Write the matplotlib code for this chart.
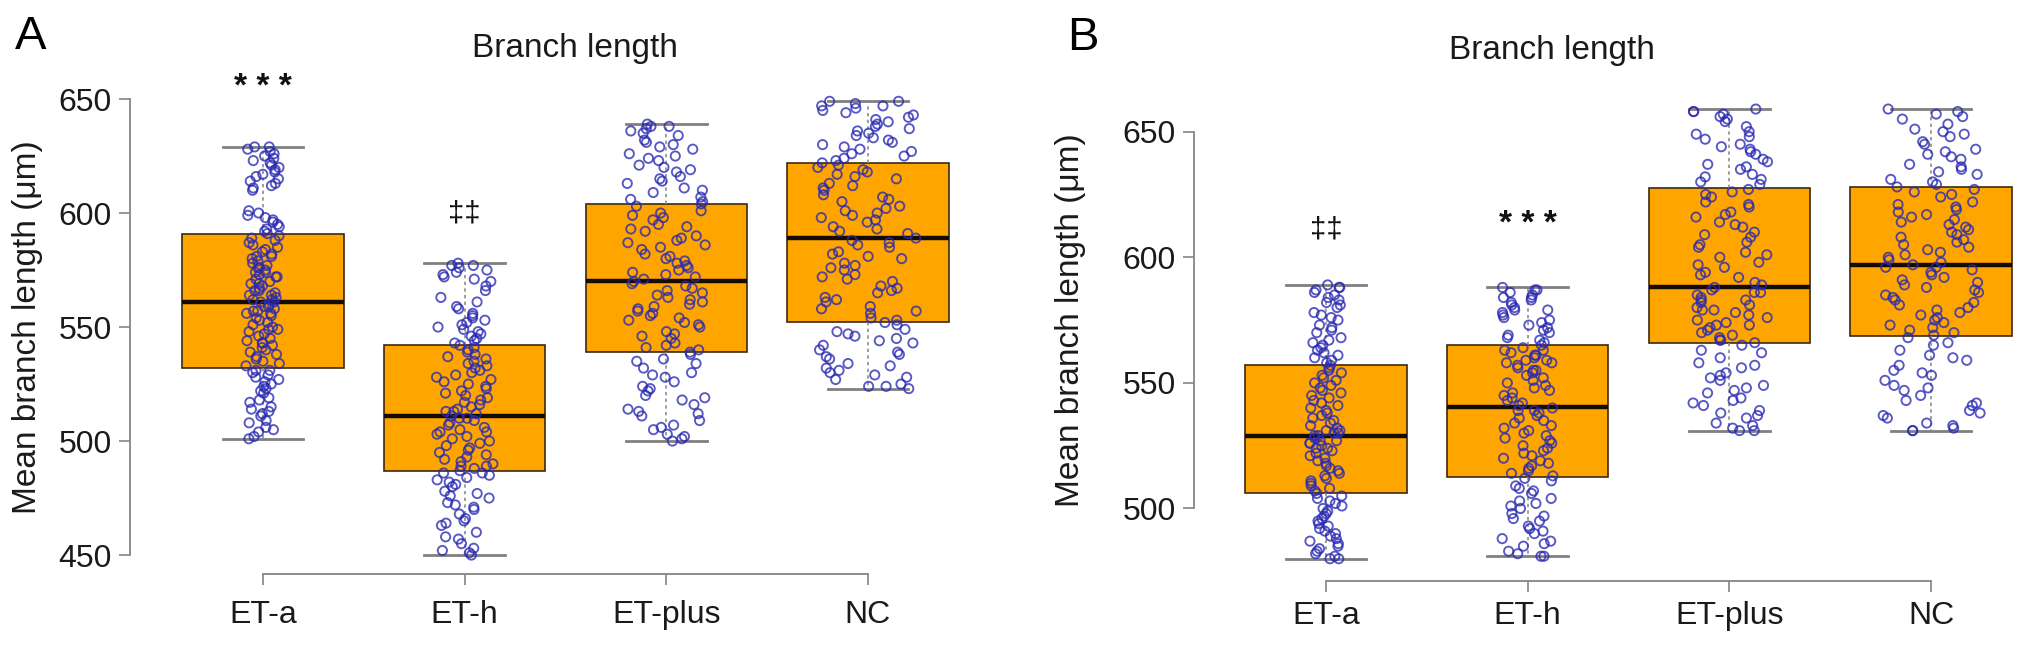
import numpy as np
import matplotlib.pyplot as plt

W, H = 2032, 647

groups = ['ET-a', 'ET-h', 'ET-plus', 'NC']

# box summaries: lower whisker, q1, median, q3, upper whisker
a_low = [501, 450, 500, 523]
a_q1 = [532, 487, 539, 552]
a_med = [561, 511, 570, 589]
a_q3 = [591, 542, 604, 622]
a_high = [629, 578, 639, 649]

b_low = [480, 481, 531, 531]
b_q1 = [506, 512.5, 566, 568.5]
b_med = [529, 540.5, 588, 597]
b_q3 = [557, 565, 627.5, 628]
b_high = [589, 588, 659, 659]

# individual cells (panel A)
a_eta = [501, 502, 505, 506, 508, 511, 512, 514, 515, 517, 518, 521, 522, 523, 525, 527, 528, 529, 531, 531,
         533, 534, 536, 537, 538, 540, 541, 542, 544, 545, 546, 548, 549, 549, 551, 552, 554, 555, 556, 557,
         558, 559, 560, 561, 561, 562, 563, 564, 565, 567, 568, 569, 570, 571, 572, 574, 575, 576, 577, 578,
         580, 581, 582, 584, 585, 586, 588, 589, 590, 591, 593, 594, 596, 597, 599, 600, 601, 610, 611, 613,
         614, 616, 617, 619, 620, 622, 623, 625, 627, 628, 629,
         504, 509, 513, 519, 524, 526, 530, 535, 539, 543, 547, 550, 553, 556, 559, 562, 564, 566, 569, 572,
         573, 576, 579, 583, 587, 592, 595, 598, 612, 615, 618, 621, 624, 626, 629, 543, 557, 566, 574, 581]
a_eth = [450, 451, 452, 455, 457, 460, 463, 464, 466, 468, 470, 472, 473, 475, 476, 478, 480, 481, 482, 484,
         485, 486, 487, 488, 489, 490, 492, 493, 494, 495, 497, 498, 499, 500, 502, 503, 504, 505, 506, 508,
         509, 510, 511, 512, 513, 514, 516, 517, 518, 520, 521, 522, 524, 525, 527, 528, 529, 531, 532, 534,
         535, 536, 538, 539, 540, 541, 543, 544, 546, 547, 549, 550, 552, 553, 554, 556, 558, 559, 561, 563,
         566, 568, 570, 572, 573, 575, 576, 577, 578,
         453, 458, 465, 471, 477, 483, 486, 489, 491, 496, 501, 504, 507, 510, 513, 515, 519, 523, 526, 530,
         533, 537, 542, 545, 548, 551, 555, 571, 574, 577]
a_etplus = [500, 501, 503, 505, 506, 509, 511, 513, 514, 516, 519, 520, 522, 524, 526, 528, 530, 532, 534, 536,
            538, 539, 540, 542, 543, 545, 546, 548, 550, 551, 553, 554, 556, 557, 558, 560, 561, 563, 564, 566,
            567, 568, 569, 571, 572, 573, 575, 576, 578, 579, 581, 582, 584, 586, 587, 589, 590, 592, 593, 595,
            597, 598, 600, 601, 603, 604, 606, 607, 609, 611, 613, 614, 616, 618, 619, 621, 623, 625, 626, 628,
            629, 631, 632, 634, 636, 637, 638, 639,
            502, 507, 512, 518, 523, 529, 535, 541, 547, 552, 555, 559, 562, 565, 570, 574, 577, 580, 585, 588,
            594, 599, 605, 610, 615, 620, 624, 630, 635, 638]
a_nc = [523, 524, 525, 527, 528, 530, 531, 533, 534, 536, 537, 539, 540, 542, 543, 545, 546, 548, 549, 551,
        552, 554, 556, 557, 559, 561, 563, 565, 566, 568, 570, 571, 573, 575, 577, 578, 580, 582, 583, 585,
        586, 588, 589, 591, 592, 594, 596, 597, 599, 600, 602, 603, 605, 607, 608, 610, 611, 613, 615, 616,
        618, 619, 621, 622, 623, 625, 626, 628, 629, 631, 632, 634, 635, 636, 638, 639, 641, 642, 643, 645,
        646, 647, 648, 649,
        524, 529, 532, 538, 544, 547, 553, 558, 562, 567, 572, 576, 581, 587, 593, 598, 601, 606, 612, 617,
        620, 624, 627, 630, 633, 637, 640, 644, 647, 649]

# individual cells (panel B)
b_eta = [480, 480, 481, 483, 484, 485, 487, 488, 490, 491, 492, 494, 495, 497, 498, 499, 501, 502, 503, 505,
         506, 507, 508, 509, 511, 512, 513, 514, 516, 517, 518, 519, 521, 522, 523, 524, 525, 526, 527, 528,
         529, 530, 531, 532, 534, 535, 536, 538, 539, 541, 542, 544, 545, 547, 548, 550, 551, 553, 554, 555,
         556, 557, 559, 560, 562, 563, 565, 566, 568, 570, 571, 573, 575, 576, 578, 580, 581, 583, 584, 586,
         587, 588, 589,
         482, 486, 489, 493, 496, 500, 504, 510, 515, 520, 524, 527, 530, 533, 537, 540, 543, 546, 549, 552,
         558, 561, 564, 567, 572, 577, 582, 585, 588, 529, 531, 526]
b_eth = [481, 481, 483, 485, 486, 488, 490, 491, 493, 495, 496, 498, 500, 501, 503, 504, 506, 508, 509, 511,
         512, 513, 515, 516, 518, 519, 521, 522, 524, 525, 527, 528, 530, 531, 533, 534, 535, 537, 538, 539,
         540, 541, 542, 544, 545, 546, 547, 549, 550, 551, 553, 554, 555, 557, 558, 559, 560, 561, 562, 563,
         564, 565, 566, 567, 568, 570, 571, 572, 573, 575, 576, 577, 578, 579, 580, 582, 583, 584, 585, 586,
         587, 588,
         482, 487, 492, 497, 502, 507, 514, 517, 520, 523, 526, 529, 532, 536, 539, 543, 548, 552, 556, 559,
         563, 569, 574, 579, 581, 584, 587, 555, 558, 561]
b_etplus = [531, 531, 533, 534, 536, 537, 539, 541, 542, 544, 546, 547, 549, 551, 552, 554, 556, 558, 560, 563,
            565, 566, 567, 568, 569, 571, 572, 573, 574, 575, 577, 578, 579, 580, 581, 582, 583, 584, 585, 586,
            587, 588, 590, 592, 594, 596, 598, 600, 602, 604, 606, 608, 610, 612, 614, 616, 618, 620, 622, 624,
            626, 627, 629, 630, 632, 633, 635, 636, 638, 639, 641, 642, 644, 645, 647, 648, 650, 652, 654, 656,
            657, 658, 659,
            532, 538, 543, 548, 553, 557, 562, 567, 570, 573, 576, 579, 583, 586, 589, 593, 597, 601, 605, 609,
            613, 617, 621, 625, 631, 637, 643, 649, 655, 658]
b_nc = [531, 531, 533, 534, 536, 538, 539, 541, 543, 545, 547, 549, 551, 553, 555, 557, 559, 561, 563, 566,
        568, 569, 571, 572, 574, 575, 577, 578, 580, 581, 583, 584, 586, 587, 589, 590, 591, 593, 594, 595,
        596, 597, 598, 600, 601, 603, 604, 606, 607, 609, 610, 612, 613, 615, 616, 618, 619, 621, 622, 624,
        626, 627, 628, 630, 631, 633, 634, 636, 637, 639, 640, 642, 643, 645, 646, 648, 649, 651, 653, 655,
        657, 658, 659,
        532, 537, 542, 548, 554, 560, 565, 570, 573, 576, 579, 582, 585, 588, 592, 596, 599, 602, 605, 608,
        611, 614, 617, 620, 625, 629, 635, 641, 650, 656]

a_points = [a_eta, a_eth, a_etplus, a_nc]
b_points = [b_eta, b_eth, b_etplus, b_nc]

a_marks = ['***', '\u2021\u2021', '', '']
b_marks = ['\u2021\u2021', '***', '', '']

jit_a = [0.085, 0.14, 0.195, 0.25]
jit_b = [0.08, 0.13, 0.19, 0.245]

plt.rcParams['font.family'] = ['Liberation Sans', 'DejaVu Sans']

fig = plt.figure(figsize=(W / 100, H / 100), dpi=100)


def px_rect(left, top, right, bottom):
    return [left / W, 1 - bottom / H, (right - left) / W, (bottom - top) / H]


def draw_panel(ax, low, q1, med, q3, high, points, jits, marks, mark_y, seed, ylim, ybounds, xpad):
    stats = []
    for i in range(len(groups)):
        stats.append(dict(whislo=low[i], q1=q1[i], med=med[i], q3=q3[i], whishi=high[i], fliers=[]))
    ax.bxp(stats, positions=range(len(groups)), widths=0.8, patch_artist=True,
           capwidths=0.4, showfliers=False,
           boxprops=dict(facecolor='#FFA500', edgecolor='#3b2a10', linewidth=1.2),
           medianprops=dict(color='#140c00', linewidth=3.2),
           whiskerprops=dict(color='#8c8c8c', linewidth=1.2, linestyle=(0, (2, 2))),
           capprops=dict(color='#808080', linewidth=2.0))
    rng = np.random.default_rng(seed)
    for i, vals in enumerate(points):
        xs = i + rng.uniform(-jits[i], jits[i], len(vals))
        ax.scatter(xs, vals, s=44, facecolors='none', edgecolors=(0.16, 0.16, 0.70, 0.78),
                   linewidths=1.35, zorder=3)
    for i, m in enumerate(marks):
        if m:
            if m == '***':
                ax.text(i, mark_y[i], '* * *', ha='center', va='center', fontsize=24,
                        fontweight='bold', color='#111111')
            else:
                ax.text(i, mark_y[i], m, ha='center', va='center', fontsize=21, color='#111111')

    ax.set_xlim(*ylim[0])
    ax.set_ylim(*ylim[1])
    for s in ['top', 'right']:
        ax.spines[s].set_visible(False)
    ax.spines['left'].set_bounds(*ybounds)
    ax.spines['bottom'].set_bounds(0, len(groups) - 1)
    for s in ['left', 'bottom']:
        ax.spines[s].set_color('#858585')
        ax.spines[s].set_linewidth(1.3)
    ax.set_yticks(np.arange(ybounds[0], ybounds[1] + 1, 50))
    ax.set_xticks(range(len(groups)))
    ax.set_xticklabels(groups)
    ax.tick_params(axis='both', length=8, width=1.2, color='#858585', labelsize=23, labelcolor='#1a1a1a')
    ax.tick_params(axis='y', pad=5)
    ax.tick_params(axis='x', pad=xpad)
    ax.patch.set_alpha(0)


# panel A
ax1 = fig.add_axes(px_rect(130, 89.9, 993, 574))
draw_panel(ax1, a_low, a_q1, a_med, a_q3, a_high, a_points, jit_a, a_marks,
           [655, 600, 0, 0], 3, ((-0.66, 3.62), (441.7, 654.0)), (450, 650), 11)

# panel B
ax2 = fig.add_axes(px_rect(1194, 100, 2032, 580.6))
draw_panel(ax2, b_low, b_q1, b_med, b_q3, b_high, b_points, jit_b, b_marks,
           [611, 613, 0, 0], 7, ((-0.654, 3.5), (471.3, 662.6)), (500, 650), 7)

# panel letters, titles and y labels
fig.text(15 / W, 1 - 49 / H, 'A', fontsize=34, va='baseline', ha='left')
fig.text(1067 / W, 1 - 50 / H, 'B', fontsize=34, va='baseline', ha='left')
fig.text(575 / W, 1 - 57 / H, 'Branch length', fontsize=24, va='baseline', ha='center', color='#1a1a1a')
fig.text(1552 / W, 1 - 59 / H, 'Branch length', fontsize=24, va='baseline', ha='center', color='#1a1a1a')
fig.text(28 / W, 1 - 327 / H, 'Mean branch length (\u03bcm)', fontsize=24, rotation=90,
         ha='center', va='center', color='#1a1a1a')
fig.text(1070 / W, 1 - 320 / H, 'Mean branch length (\u03bcm)', fontsize=24, rotation=90,
         ha='center', va='center', color='#1a1a1a')

fig.savefig('out.png', dpi=100)
